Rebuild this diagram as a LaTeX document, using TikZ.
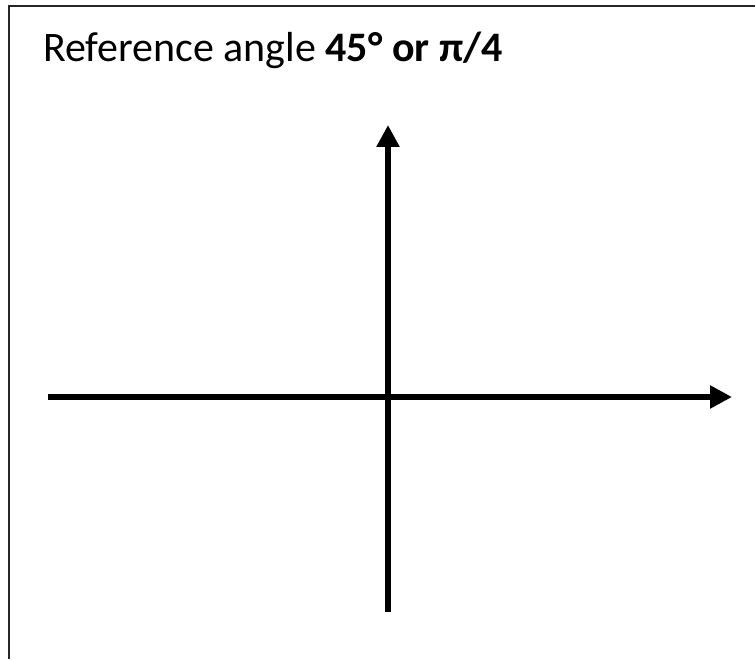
\documentclass[tikz,border=0pt]{standalone}
\usepackage{fontspec}
\setmainfont{Carlito}
\usepackage{tikz}
\usetikzlibrary{arrows.meta, positioning}

\tikzset{
  axis/.style={line width=6pt, -{Triangle[length=22pt, width=22pt]}},
  frame/.style={line width=2pt, black!85},
  title/.style={anchor=base west, inner sep=0pt, font=\fontsize{42}{50}\selectfont}
}

\begin{document}
\begin{tikzpicture}[x=1pt, y=1pt]
  \useasboundingbox (0,0) rectangle (755,659);

  % Frame (cut off at right and bottom)
  \draw[frame] (9,0) -- (9,653) -- (755,653);

  % Title
  \node[title] (ttl) at (43,597) {Reference angle \textbf{45° or π/4}};

  % Axes
  \coordinate (xmin) at (48,262);
  \coordinate (xmax) at (732,262);
  \coordinate (ymin) at (388,47);
  \coordinate (ymax) at (388,534);
  \draw[axis] (xmin) -- (xmax);
  \draw[axis] (ymin) -- (ymax);
\end{tikzpicture}
\end{document}
